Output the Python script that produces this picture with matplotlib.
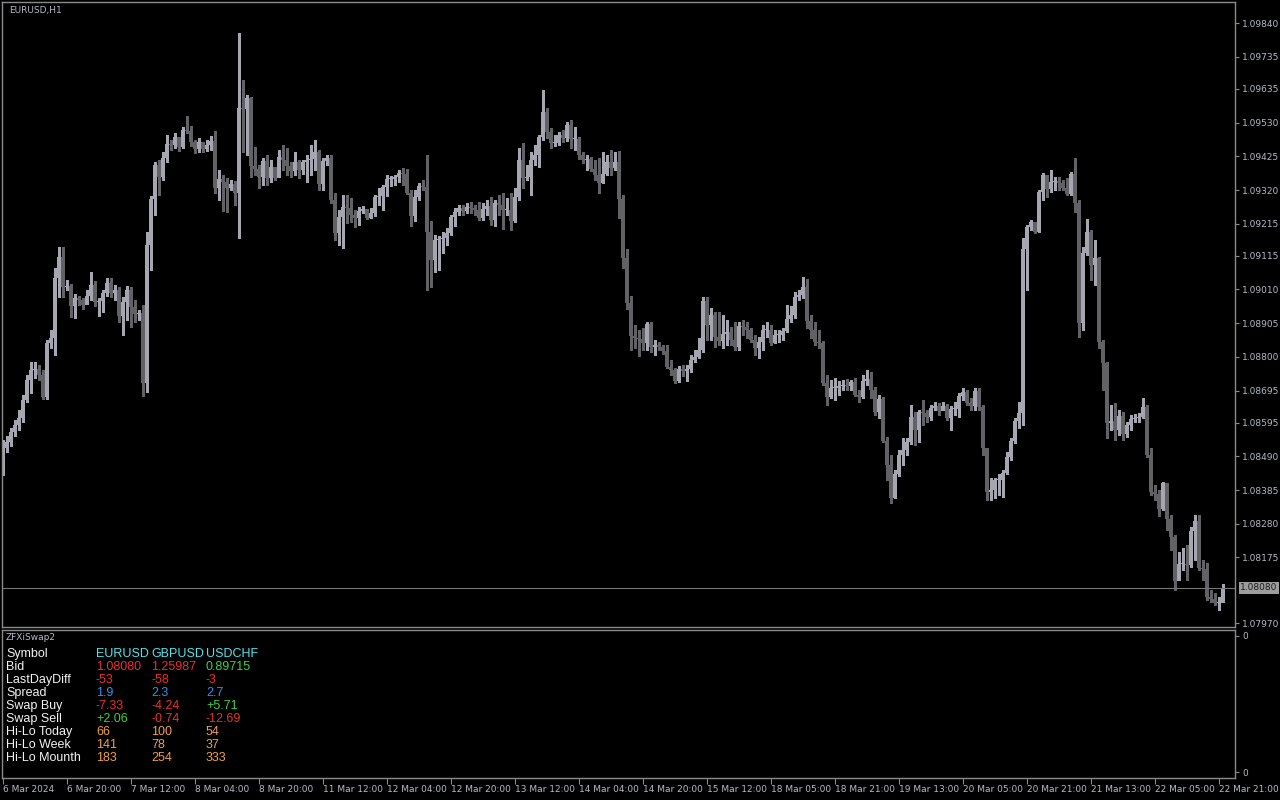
import matplotlib
matplotlib.use("Agg")
import matplotlib.pyplot as plt
import numpy as np

# EURUSD H1 candles, 6 Mar 04:00 .. 22 Mar 2024 (open = previous close)
first_open = 1.08493
closes = [
    1.08515, 1.08534, 1.08566, 1.08587, 1.08609, 1.08665, 1.08727, 1.08759, 1.08762, 1.08743,
    1.08674, 1.08843, 1.08858, 1.09045, 1.09111, 1.09017, 1.09020, 1.08958, 1.08983, 1.08977,
    1.08961, 1.08989, 1.09023, 1.08971, 1.08974, 1.08999, 1.09030, 1.08999, 1.09008, 1.08927,
    1.08971, 1.09008, 1.08955, 1.08933, 1.08936, 1.08718, 1.09148, 1.09292, 1.09398, 1.09360,
    1.09419, 1.09463, 1.09460, 1.09485, 1.09454, 1.09507, 1.09504, 1.09470, 1.09447, 1.09470,
    1.09447, 1.09460, 1.09473, 1.09326, 1.09354, 1.09345, 1.09326, 1.09338, 1.09310, 1.09575,
    1.09572, 1.09606, 1.09394, 1.09385, 1.09360, 1.09410, 1.09357, 1.09392, 1.09357, 1.09423,
    1.09413, 1.09394, 1.09379, 1.09407, 1.09382, 1.09407, 1.09413, 1.09416, 1.09438, 1.09338,
    1.09410, 1.09419, 1.09289, 1.09186, 1.09236, 1.09267, 1.09264, 1.09242, 1.09232, 1.09254,
    1.09260, 1.09232, 1.09248, 1.09298, 1.09301, 1.09329, 1.09354, 1.09354, 1.09360, 1.09373,
    1.09370, 1.09311, 1.09239, 1.09298, 1.09332, 1.09329, 1.09189, 1.09102, 1.09164, 1.09167,
    1.09170, 1.09186, 1.09236, 1.09251, 1.09264, 1.09254, 1.09267, 1.09264, 1.09257, 1.09232,
    1.09260, 1.09270, 1.09226, 1.09279, 1.09273, 1.09257, 1.09257, 1.09223, 1.09298, 1.09413,
    1.09357, 1.09360, 1.09413, 1.09429, 1.09485, 1.09563, 1.09500, 1.09466, 1.09466, 1.09491,
    1.09482, 1.09522, 1.09479, 1.09479, 1.09429, 1.09413, 1.09416, 1.09385, 1.09366, 1.09342,
    1.09370, 1.09407, 1.09388, 1.09407, 1.09292, 1.09108, 1.08967, 1.08865, 1.08858, 1.08855,
    1.08843, 1.08902, 1.08830, 1.08836, 1.08830, 1.08818, 1.08768, 1.08759, 1.08724, 1.08762,
    1.08756, 1.08762, 1.08790, 1.08799, 1.08821, 1.08974, 1.08899, 1.08930, 1.08862, 1.08849,
    1.08871, 1.08877, 1.08852, 1.08830, 1.08896, 1.08893, 1.08883, 1.08852, 1.08827, 1.08846,
    1.08883, 1.08883, 1.08843, 1.08868, 1.08868, 1.08880, 1.08918, 1.08930, 1.08986, 1.08992,
    1.09017, 1.08912, 1.08883, 1.08846, 1.08843, 1.08718, 1.08674, 1.08702, 1.08702, 1.08709,
    1.08712, 1.08709, 1.08721, 1.08681, 1.08674, 1.08724, 1.08731, 1.08696, 1.08628, 1.08668,
    1.08537, 1.08462, 1.08360, 1.08435, 1.08494, 1.08509, 1.08534, 1.08612, 1.08572, 1.08628,
    1.08625, 1.08612, 1.08640, 1.08646, 1.08631, 1.08646, 1.08609, 1.08637, 1.08637, 1.08677,
    1.08690, 1.08656, 1.08646, 1.08693, 1.08643, 1.08515, 1.08378, 1.08385, 1.08416, 1.08416,
    1.08438, 1.08488, 1.08537, 1.08600, 1.08625, 1.09136, 1.09204, 1.09220, 1.09189, 1.09314,
    1.09366, 1.09323, 1.09345, 1.09348, 1.09342, 1.09326, 1.09307, 1.09370, 1.09279, 1.08905,
    1.09123, 1.09189, 1.09086, 1.09108, 1.08846, 1.08780, 1.08594, 1.08600, 1.08572, 1.08615,
    1.08559, 1.08587, 1.08606, 1.08609, 1.08612, 1.08643, 1.08494, 1.08378, 1.08372, 1.08325,
    1.08407, 1.08294, 1.08238, 1.08101, 1.08154, 1.08154, 1.08151, 1.08257, 1.08288, 1.08142,
    1.08139, 1.08051, 1.08045, 1.08033, 1.08033, 1.08080,
]
highs = [
    1.08540, 1.08553, 1.08578, 1.08603, 1.08634, 1.08681, 1.08743, 1.08784, 1.08784, 1.08774,
    1.08759, 1.08852, 1.08883, 1.09076, 1.09142, 1.09142, 1.09039, 1.09027, 1.08995, 1.08989,
    1.08983, 1.09008, 1.09064, 1.09036, 1.08983, 1.09008, 1.09045, 1.09045, 1.09023, 1.09017,
    1.08986, 1.09020, 1.09017, 1.08977, 1.08946, 1.08961, 1.09189, 1.09301, 1.09407, 1.09413,
    1.09438, 1.09491, 1.09476, 1.09497, 1.09476, 1.09516, 1.09550, 1.09519, 1.09476, 1.09482,
    1.09470, 1.09476, 1.09488, 1.09504, 1.09382, 1.09366, 1.09357, 1.09351, 1.09348, 1.09809,
    1.09663, 1.09616, 1.09610, 1.09454, 1.09398, 1.09419, 1.09429, 1.09413, 1.09376, 1.09444,
    1.09460, 1.09450, 1.09407, 1.09438, 1.09413, 1.09413, 1.09429, 1.09460, 1.09476, 1.09444,
    1.09419, 1.09429, 1.09429, 1.09311, 1.09257, 1.09304, 1.09304, 1.09295, 1.09257, 1.09267,
    1.09270, 1.09257, 1.09264, 1.09304, 1.09326, 1.09335, 1.09366, 1.09363, 1.09366, 1.09382,
    1.09388, 1.09385, 1.09320, 1.09320, 1.09342, 1.09351, 1.09429, 1.09223, 1.09179, 1.09176,
    1.09189, 1.09201, 1.09242, 1.09264, 1.09273, 1.09273, 1.09279, 1.09282, 1.09273, 1.09282,
    1.09279, 1.09289, 1.09298, 1.09289, 1.09304, 1.09311, 1.09295, 1.09311, 1.09326, 1.09450,
    1.09466, 1.09398, 1.09438, 1.09460, 1.09491, 1.09632, 1.09575, 1.09513, 1.09491, 1.09500,
    1.09507, 1.09532, 1.09538, 1.09516, 1.09485, 1.09438, 1.09429, 1.09423, 1.09413, 1.09419,
    1.09438, 1.09429, 1.09444, 1.09438, 1.09441, 1.09304, 1.09136, 1.08989, 1.08899, 1.08883,
    1.08890, 1.08908, 1.08908, 1.08852, 1.08846, 1.08836, 1.08836, 1.08790, 1.08765, 1.08771,
    1.08774, 1.08774, 1.08805, 1.08821, 1.08858, 1.08986, 1.08986, 1.08952, 1.08939, 1.08939,
    1.08930, 1.08915, 1.08893, 1.08908, 1.08908, 1.08915, 1.08908, 1.08890, 1.08868, 1.08862,
    1.08899, 1.08908, 1.08899, 1.08883, 1.08883, 1.08890, 1.08961, 1.08958, 1.09002, 1.09008,
    1.09048, 1.09042, 1.08930, 1.08908, 1.08883, 1.08849, 1.08743, 1.08727, 1.08734, 1.08724,
    1.08727, 1.08731, 1.08727, 1.08734, 1.08696, 1.08743, 1.08759, 1.08752, 1.08706, 1.08681,
    1.08674, 1.08550, 1.08494, 1.08447, 1.08509, 1.08546, 1.08546, 1.08649, 1.08628, 1.08634,
    1.08665, 1.08634, 1.08649, 1.08659, 1.08656, 1.08659, 1.08652, 1.08646, 1.08659, 1.08687,
    1.08702, 1.08696, 1.08671, 1.08702, 1.08702, 1.08649, 1.08515, 1.08422, 1.08422, 1.08435,
    1.08447, 1.08503, 1.08546, 1.08609, 1.08659, 1.09170, 1.09210, 1.09226, 1.09201, 1.09320,
    1.09373, 1.09366, 1.09382, 1.09360, 1.09360, 1.09351, 1.09357, 1.09376, 1.09419, 1.09289,
    1.09142, 1.09229, 1.09195, 1.09164, 1.09111, 1.08852, 1.08784, 1.08649, 1.08656, 1.08634,
    1.08628, 1.08597, 1.08618, 1.08621, 1.08625, 1.08671, 1.08649, 1.08515, 1.08400, 1.08385,
    1.08410, 1.08407, 1.08306, 1.08245, 1.08192, 1.08204, 1.08213, 1.08270, 1.08306, 1.08306,
    1.08167, 1.08157, 1.08073, 1.08064, 1.08051, 1.08092,
]
lows = [
    1.08431, 1.08503, 1.08522, 1.08553, 1.08572, 1.08597, 1.08659, 1.08687, 1.08734, 1.08727,
    1.08668, 1.08668, 1.08827, 1.08805, 1.08986, 1.08986, 1.09008, 1.08924, 1.08921, 1.08961,
    1.08949, 1.08964, 1.08977, 1.08958, 1.08927, 1.08940, 1.08989, 1.08986, 1.08977, 1.08909,
    1.08868, 1.08915, 1.08893, 1.08909, 1.08915, 1.08677, 1.08690, 1.09070, 1.09242, 1.09304,
    1.09351, 1.09407, 1.09444, 1.09450, 1.09441, 1.09450, 1.09497, 1.09457, 1.09435, 1.09438,
    1.09438, 1.09441, 1.09444, 1.09311, 1.09289, 1.09254, 1.09251, 1.09320, 1.09273, 1.09170,
    1.09438, 1.09429, 1.09360, 1.09366, 1.09326, 1.09335, 1.09335, 1.09345, 1.09351, 1.09360,
    1.09382, 1.09366, 1.09360, 1.09366, 1.09357, 1.09370, 1.09345, 1.09366, 1.09382, 1.09320,
    1.09320, 1.09398, 1.09279, 1.09164, 1.09148, 1.09139, 1.09217, 1.09220, 1.09204, 1.09210,
    1.09248, 1.09229, 1.09232, 1.09239, 1.09273, 1.09257, 1.09301, 1.09332, 1.09335, 1.09345,
    1.09335, 1.09307, 1.09207, 1.09223, 1.09289, 1.09320, 1.09008, 1.09017, 1.09064, 1.09070,
    1.09123, 1.09148, 1.09179, 1.09207, 1.09242, 1.09242, 1.09248, 1.09248, 1.09242, 1.09226,
    1.09226, 1.09242, 1.09210, 1.09207, 1.09242, 1.09198, 1.09242, 1.09195, 1.09220, 1.09289,
    1.09326, 1.09351, 1.09304, 1.09398, 1.09392, 1.09476, 1.09482, 1.09450, 1.09457, 1.09460,
    1.09470, 1.09473, 1.09450, 1.09444, 1.09416, 1.09404, 1.09382, 1.09379, 1.09351, 1.09311,
    1.09342, 1.09366, 1.09366, 1.09382, 1.09232, 1.09076, 1.08949, 1.08821, 1.08827, 1.08802,
    1.08821, 1.08821, 1.08815, 1.08805, 1.08821, 1.08808, 1.08765, 1.08743, 1.08718, 1.08721,
    1.08740, 1.08724, 1.08752, 1.08784, 1.08796, 1.08815, 1.08852, 1.08852, 1.08830, 1.08836,
    1.08827, 1.08836, 1.08836, 1.08821, 1.08821, 1.08868, 1.08858, 1.08846, 1.08805, 1.08796,
    1.08821, 1.08862, 1.08836, 1.08843, 1.08846, 1.08852, 1.08877, 1.08909, 1.08921, 1.08977,
    1.08983, 1.08890, 1.08858, 1.08836, 1.08827, 1.08712, 1.08649, 1.08671, 1.08665, 1.08681,
    1.08696, 1.08696, 1.08696, 1.08677, 1.08659, 1.08671, 1.08712, 1.08671, 1.08618, 1.08609,
    1.08534, 1.08416, 1.08344, 1.08360, 1.08428, 1.08462, 1.08494, 1.08528, 1.08525, 1.08534,
    1.08587, 1.08597, 1.08603, 1.08634, 1.08618, 1.08634, 1.08603, 1.08572, 1.08618, 1.08612,
    1.08665, 1.08649, 1.08634, 1.08634, 1.08634, 1.08494, 1.08354, 1.08354, 1.08360, 1.08369,
    1.08363, 1.08435, 1.08478, 1.08531, 1.08578, 1.08587, 1.09008, 1.09195, 1.09186, 1.09189,
    1.09289, 1.09298, 1.09314, 1.09320, 1.09320, 1.09320, 1.09304, 1.09304, 1.09251, 1.08862,
    1.08883, 1.09117, 1.09039, 1.09023, 1.08827, 1.08696, 1.08546, 1.08572, 1.08540, 1.08556,
    1.08540, 1.08550, 1.08572, 1.08597, 1.08597, 1.08609, 1.08488, 1.08369, 1.08354, 1.08303,
    1.08322, 1.08260, 1.08198, 1.08073, 1.08104, 1.08135, 1.08104, 1.08145, 1.08167, 1.08135,
    1.08104, 1.08042, 1.08036, 1.08027, 1.08011, 1.08042,
]
bid = 1.08080

price_ticks = [1.09840, 1.09735, 1.09635, 1.09530, 1.09425, 1.09320, 1.09215, 1.09115,
               1.09010, 1.08905, 1.08800, 1.08695, 1.08595, 1.08490, 1.08385, 1.08280,
               1.08175, 1.07970]
time_labels = ["6 Mar 2024", "6 Mar 20:00", "7 Mar 12:00", "8 Mar 04:00", "8 Mar 20:00",
               "11 Mar 12:00", "12 Mar 04:00", "12 Mar 20:00", "13 Mar 12:00", "14 Mar 04:00",
               "14 Mar 20:00", "15 Mar 12:00", "18 Mar 05:00", "18 Mar 21:00", "19 Mar 13:00",
               "20 Mar 05:00", "20 Mar 21:00", "21 Mar 13:00", "22 Mar 05:00", "22 Mar 21:00"]

# swap panel
row_names = ["Symbol", "Bid", "LastDayDiff", "Spread", "Swap Buy", "Swap Sell",
             "Hi-Lo Today", "Hi-Lo Week", "Hi-Lo Mounth"]
symbols = ["EURUSD", "GBPUSD", "USDCHF"]
bids = ["1.08080", "1.25987", "0.89715"]
last_day_diff = ["-53", "-58", "-3"]
spreads = ["1.9", "2.3", "2.7"]
swap_buy = ["-7.33", "-4.24", "+5.71"]
swap_sell = ["+2.06", "-0.74", "-12.69"]
hilo_today = ["66", "100", "54"]
hilo_week = ["141", "78", "37"]
hilo_month = ["183", "254", "333"]

W, H = 1280, 800
BG = "#000000"
FRAME = "#8a8a8a"
TXT = "#b4bac4"
BULL = "#a6a6b0"
BEAR = "#626266"
RED = "#e83030"
GREEN = "#40d040"
BLUE = "#3a8ee8"
CYAN = "#55e2e8"
ORANGE = "#f0a048"


def fx(px):
    return px / W


def fy(py):
    return 1 - py / H


def sign_color(s):
    return GREEN if s.startswith("+") else RED


fig = plt.figure(figsize=(12.8, 8), dpi=100, facecolor=BG)
ax = fig.add_axes([fx(2), fy(627), fx(1235) - fx(2), fy(2) - fy(627)], facecolor=BG)
ax_ind = fig.add_axes([fx(2), fy(778), fx(1235) - fx(2), fy(630) - fy(778)], facecolor=BG)

# candles
c = np.array(closes)
o = np.concatenate([[first_open], c[:-1]])
hi = np.array(highs)
lo = np.array(lows)
x = np.arange(len(c))
cols = np.where(c >= o, BULL, BEAR)
ax.vlines(x, lo, hi, colors=cols, linewidth=0.75, antialiased=False)
body_h = np.maximum(np.abs(c - o), 0.000025)
ax.bar(x, body_h, bottom=np.minimum(o, c), width=0.78, color=cols, linewidth=0,
       antialiased=False)

ax.axhline(bid, color="#7a7a7a", linewidth=0.75)
ax.set_xlim(-0.25, 308)
ax.set_ylim(1.07958, 1.09906)
ax.set_xticks([])
ax.yaxis.tick_right()
ax.set_yticks(price_ticks)
ax.set_yticklabels([f"{p:.5f}" for p in price_ticks])
ax.tick_params(axis="y", colors=FRAME, labelcolor=TXT, labelsize=6.5, length=3, pad=2)
for s in ax.spines.values():
    s.set_color(FRAME)
    s.set_linewidth(1)

ax.text(1.004, bid, f"{bid:.5f}", transform=ax.get_yaxis_transform(), fontsize=6.5,
        color="#1a1a1a", va="center", ha="left",
        bbox=dict(boxstyle="square,pad=0.15", facecolor="#9c9c9c", edgecolor="none"))
ax.text(fx(7) / (fx(1235) - fx(2)), 0.987, "EURUSD,H1", transform=ax.transAxes,
        fontsize=6.5, color=TXT, va="center", ha="left")

# indicator window
ax_ind.set_xlim(-0.25, 308)
ax_ind.set_ylim(0, 1)
ax_ind.yaxis.tick_right()
ax_ind.set_yticks([0.04, 0.96])
ax_ind.set_yticklabels(["0", "0"])
ax_ind.tick_params(axis="y", colors=FRAME, labelcolor=TXT, labelsize=6.5, length=3, pad=2)
ax_ind.set_xticks(np.arange(len(time_labels)) * 16)
ax_ind.set_xticklabels(time_labels)
ax_ind.tick_params(axis="x", colors=FRAME, labelcolor=TXT, labelsize=6.5, length=4, pad=1)
for lab in ax_ind.get_xticklabels():
    lab.set_horizontalalignment("left")
for s in ax_ind.spines.values():
    s.set_color(FRAME)
    s.set_linewidth(1)
ax_ind.text(0.003, 0.95, "ZFXiSwap2", transform=ax_ind.transAxes, fontsize=6.5,
            color=TXT, va="center", ha="left")

# swap table
font = dict(family=["Liberation Sans", "DejaVu Sans"], fontsize=9, va="center", ha="left")
row_y = [654 + 13 * i for i in range(len(row_names))]
col_x = [96, 151, 206]
for name, yy in zip(row_names, row_y):
    fig.text(fx(6), fy(yy), name, color="#f2f2f2", **font)

rows = [
    (symbols, [CYAN] * 3),
    (bids, [RED, RED, GREEN]),
    (last_day_diff, [RED] * 3),
    (spreads, [BLUE] * 3),
    (swap_buy, [sign_color(v) for v in swap_buy]),
    (swap_sell, [sign_color(v) for v in swap_sell]),
    (hilo_today, [ORANGE] * 3),
    (hilo_week, [ORANGE] * 3),
    (hilo_month, [ORANGE] * 3),
]
for (vals, colors), yy in zip(rows, row_y):
    for v, col, xx in zip(vals, colors, col_x):
        fig.text(fx(xx), fy(yy), v, color=col, **font)

fig.savefig("out.png", dpi=100, facecolor=BG)
